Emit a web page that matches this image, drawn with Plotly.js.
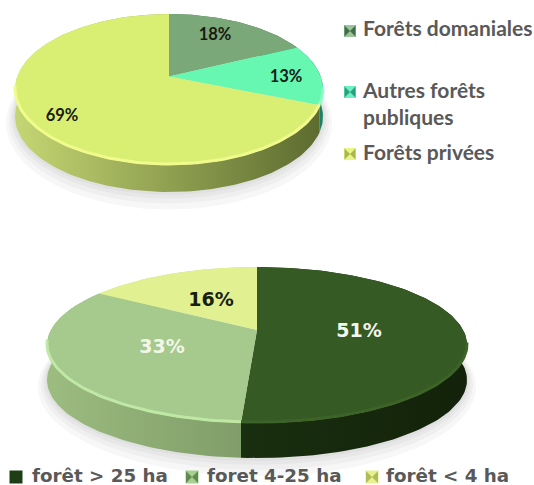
<!DOCTYPE html>
<html><head><meta charset="utf-8">
<script src="https://cdn.plot.ly/plotly-3.0.1.min.js"></script>
<style>html,body{margin:0;padding:0;background:#fff}#c{width:534px;height:485px}</style>
</head><body><div id="c"></div>
<script>
// ---- data ----
const topCategories = ["Forêts domaniales", "Autres forêts<br>publiques", "Forêts privées"];
const topValues = [18, 13, 69];
const bottomCategories = ["forêt > 25 ha", "foret 4-25 ha", "forêt < 4 ha"];
const bottomValues = [51, 33, 16];

// ---- styles ----
const topStyle = {
  cx:169, apexY:76.5, rx:154, up:62.5, down:88.5, depth:27,
  face:["#7aa878","#66f8b0","#d9ef74"],
  rim:["#8fbc8c","#8ffcc8","#f0fb8c"],
  side:[["#4f7a50","#3f6a44"],["#35b58a","#1f7f68"],["#c4d673","#5c6a2e"]],
  sideRange:[15,323],
  labelColor:["#1a1a10","#10201a","#1a1a10"],
  labelPos:[[215,36],[286,78],[62,117]],
  labelFont:{family:"Lato",size:16.5,weight:700}
};
const bottomStyle = {
  cx:257, apexY:330, rx:210, up:63, down:93, depth:35,
  face:["#365a23","#a6c98d","#e1f192"],
  rim:["#3d6329","#bfe8a4","#eef8a8"],
  side:[["#1f3a13","#13220a"],["#9cbc80","#5f7a4e"],["#c8d880","#c8d880"]],
  sideRange:[47,467],
  labelColor:["#f2f6ee","#f2f6e8","#15200f"],
  labelPos:[[359,332],[162,348],[211,301]],
  labelFont:{family:"DejaVu Sans",size:19,weight:700}
};

// perspective projection of the pie disc: angle -> screen point
function projector(s){
  const r=(s.down)/(s.up), k=(r-1)/(r+1), b=s.up*(1+k), a=s.rx*Math.sqrt(1-k*k);
  return (deg,dy=0)=>{
    const t=deg*Math.PI/180, d=1+k*Math.cos(t);
    return [s.cx+a*Math.sin(t)/d, s.apexY-b*Math.cos(t)/d+dy];
  };
}
function arc(p,a0,a1,dy=0){
  const n=Math.max(2,Math.ceil(Math.abs(a1-a0)/1.5)), xs=[], ys=[];
  for(let i=0;i<=n;i++){const q=p(a0+(a1-a0)*i/n,dy);xs.push(q[0]);ys.push(q[1]);}
  return [xs,ys];
}
const traces=[];
const base={mode:"lines",hoverinfo:"skip",showlegend:false,xaxis:"x",yaxis:"y"};

function addPie(values,s){
  const p=projector(s), total=values.reduce((u,v)=>u+v,0);
  // soft shadow
  for(const g of [9,6,3.5,1.5]){
    const [xs,ys]=arc(p,0,360,s.depth+g*0.6);
    const cy=s.apexY+s.depth+10;
    traces.push({...base,x:xs.map(x=>s.cx+(x-s.cx)*(1+g/s.rx)),y:ys.map(y=>cy+(y-cy)*(1+g/s.up)),
      fill:"toself",fillcolor:"rgba(60,60,60,0.045)",line:{width:0}});
  }
  // sides
  let c=0; const spans=values.map(v=>{const a=c*360/total;c+=v;return [a,c*360/total];});
  spans.forEach(([a0,a1],i)=>{
    const [x1,y1]=arc(p,a0,a1,0), [x2,y2]=arc(p,a1,a0,s.depth);
    traces.push({...base,x:x1.concat(x2),y:y1.concat(y2),fill:"toself",line:{width:0},
      fillgradient:{type:"horizontal",start:s.sideRange[0],stop:s.sideRange[1],
        colorscale:[[0,s.side[i][0]],[1,s.side[i][1]]]}});
  });
  // faces
  spans.forEach(([a0,a1],i)=>{
    const [xs,ys]=arc(p,a0,a1);
    traces.push({...base,x:[s.cx].concat(xs,[s.cx]),y:[s.apexY].concat(ys,[s.apexY]),
      fill:"toself",fillcolor:s.face[i],line:{width:0}});
  });
  // bevel highlight on the front edge
  spans.forEach(([a0,a1],i)=>{
    const lo=Math.max(a0,100), hi=Math.min(a1,262);
    if(hi<=lo) return;
    const [xs,ys]=arc(p,lo,hi,-1);
    traces.push({...base,x:xs,y:ys,line:{color:s.rim[i],width:3}});
  });
  // value labels
  values.forEach((v,i)=>{
    traces.push({...base,mode:"text",x:[s.labelPos[i][0]],y:[s.labelPos[i][1]],text:[v+"%"],
      textposition:"middle center",textfont:{...s.labelFont,color:s.labelColor[i]}});
  });
}
addPie(topValues,topStyle);
addPie(bottomValues,bottomStyle);

// legends
function addLegend(names,colors,edge,mx,my,tx,ty,font,ms){
  names.forEach((n,i)=>{
    traces.push({...base,mode:"markers",x:[mx[i]],y:[my[i]],
      marker:{symbol:"square",size:ms,color:colors[i],line:{width:0}}});
    if(edge[i]) traces.push({...base,mode:"markers",x:[mx[i]],y:[my[i]],
      marker:{symbol:"bowtie",size:ms-1,color:edge[i],line:{width:0}}});
    traces.push({...base,mode:"text",x:[tx[i]],y:[ty[i]],text:[n],
      textposition:"middle right",textfont:font});
  });
}
addLegend(topCategories,["#9cc49a","#6ff0c0","#e8f488"],["#3f6e48","#2aa080","#a8b84c"],
  [350,350,350],[31,92,154],[363,363,363],[31,106,155],
  {family:"Lato",size:21,weight:700,color:"#595959"},12);
addLegend(bottomCategories,["#1f3d14","#a6d090","#e8f090"],[null,"#5f8a50","#b0bc58"],
  [16,192,372],[477,477,477],[32,207,386],[477,477,477],
  {family:"DejaVu Sans",size:18.3,weight:700,color:"#595959"},13);

const axis={visible:false,fixedrange:true,showgrid:false,zeroline:false};
Plotly.newPlot("c",traces,{
  width:534,height:485,margin:{l:0,r:0,t:0,b:0},
  paper_bgcolor:"#fff",plot_bgcolor:"#fff",showlegend:false,hovermode:false,
  xaxis:{...axis,range:[0,534]},yaxis:{...axis,range:[485,0]}
},{displayModeBar:false,staticPlot:true});
</script></body></html>
